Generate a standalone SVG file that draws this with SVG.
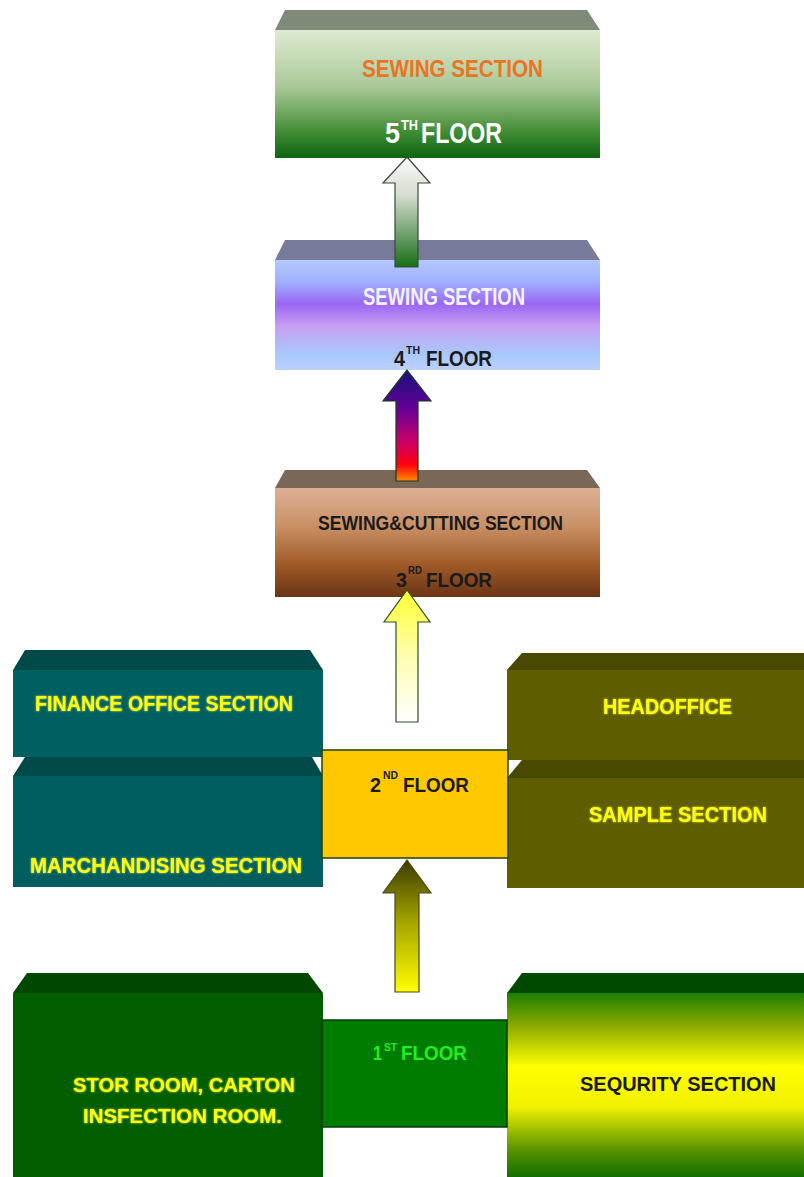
<svg xmlns="http://www.w3.org/2000/svg" width="804" height="1177" viewBox="0 0 804 1177">
  <defs>
    <linearGradient id="g5" x1="0" y1="0" x2="0" y2="1">
      <stop offset="0" stop-color="#dfead2"/>
      <stop offset="0.45" stop-color="#a9c896"/>
      <stop offset="0.8" stop-color="#3f8c34"/>
      <stop offset="1" stop-color="#0e6410"/>
    </linearGradient>
    <linearGradient id="g4" x1="0" y1="0" x2="0" y2="1">
      <stop offset="0" stop-color="#b4c8ff"/>
      <stop offset="0.2" stop-color="#a0b0ff"/>
      <stop offset="0.4" stop-color="#9a66f4"/>
      <stop offset="0.6" stop-color="#c79ef2"/>
      <stop offset="0.85" stop-color="#a8c8fc"/>
      <stop offset="1" stop-color="#bcd0ff"/>
    </linearGradient>
    <linearGradient id="g3" x1="0" y1="0" x2="0" y2="1">
      <stop offset="0" stop-color="#dcb096"/>
      <stop offset="0.35" stop-color="#c99064"/>
      <stop offset="0.7" stop-color="#a05a28"/>
      <stop offset="1" stop-color="#6a3416"/>
    </linearGradient>
    <linearGradient id="gsec" x1="0" y1="0" x2="0" y2="1">
      <stop offset="0" stop-color="#1e7e00"/>
      <stop offset="0.18" stop-color="#8caa00"/>
      <stop offset="0.4" stop-color="#ffff00"/>
      <stop offset="0.62" stop-color="#f0f000"/>
      <stop offset="0.85" stop-color="#5a9400"/>
      <stop offset="1" stop-color="#126e00"/>
    </linearGradient>
    <linearGradient id="a1" x1="0" y1="0" x2="0" y2="1">
      <stop offset="0" stop-color="#fafafa"/>
      <stop offset="0.35" stop-color="#d4dccf"/>
      <stop offset="1" stop-color="#176e17"/>
    </linearGradient>
    <linearGradient id="a2" x1="0" y1="0" x2="0" y2="1">
      <stop offset="0" stop-color="#141478"/>
      <stop offset="0.35" stop-color="#660099"/>
      <stop offset="0.65" stop-color="#cc0066"/>
      <stop offset="0.85" stop-color="#ff0010"/>
      <stop offset="1" stop-color="#ff8c00"/>
    </linearGradient>
    <linearGradient id="a3" x1="0" y1="0" x2="0" y2="1">
      <stop offset="0" stop-color="#ffff30"/>
      <stop offset="0.5" stop-color="#fdfdb0"/>
      <stop offset="1" stop-color="#ffffff"/>
    </linearGradient>
    <linearGradient id="a4" x1="0" y1="0" x2="0" y2="1">
      <stop offset="0" stop-color="#3c3c00"/>
      <stop offset="0.45" stop-color="#a0a000"/>
      <stop offset="1" stop-color="#ffff00"/>
    </linearGradient>
    <filter id="glow" x="-10%" y="-30%" width="120%" height="160%">
      <feGaussianBlur in="SourceAlpha" stdDeviation="1.2" result="b"/>
      <feFlood flood-color="#ffff66" flood-opacity="0.8"/>
      <feComposite in2="b" operator="in" result="h"/>
      <feMerge><feMergeNode in="h"/><feMergeNode in="SourceGraphic"/></feMerge>
    </filter>
  </defs>
  <style>
    text { font-family: "Liberation Sans", Arial, sans-serif; font-weight: bold; }
    .yl { fill: #ffff00; filter: url(#glow); }
    .bk { fill: #1a1a1a; }
    .arrow { stroke-width: 1.2; }
  </style>

  <!-- fifth floor -->
  <g id="floor5">
    <polygon points="285,10 587,10 600,30 275,30" fill="#7f8a78"/>
    <rect x="275" y="30" width="325" height="128" fill="url(#g5)"/>
    <text x="362" y="77" font-size="24" fill="#ea7424" textLength="181" lengthAdjust="spacingAndGlyphs">SEWING  SECTION</text>
    <text x="385" y="143" font-size="29" fill="#ffffff" font-weight="normal" textLength="15" lengthAdjust="spacingAndGlyphs">5</text>
    <text x="401" y="130" font-size="14" fill="#ffffff" font-weight="normal" textLength="17" lengthAdjust="spacingAndGlyphs">TH</text>
    <text x="421" y="143" font-size="29" fill="#ffffff" font-weight="normal" textLength="81" lengthAdjust="spacingAndGlyphs">FLOOR</text>
  </g>

  <!-- fourth floor -->
  <g id="floor4">
    <polygon points="285,240 587,240 600,260 275,260" fill="#777a98"/>
    <rect x="275" y="260" width="325" height="110" fill="url(#g4)"/>
    <text x="363" y="305" font-size="23" fill="#f4f4ff" font-weight="normal" textLength="162" lengthAdjust="spacingAndGlyphs">SEWING SECTION</text>
    <text x="394" y="366" font-size="22" class="bk" font-weight="normal" textLength="11" lengthAdjust="spacingAndGlyphs">4</text>
    <text x="406" y="354" font-size="11" class="bk" font-weight="normal" textLength="14" lengthAdjust="spacingAndGlyphs">TH</text>
    <text x="426" y="366" font-size="22" class="bk" textLength="66" lengthAdjust="spacingAndGlyphs">FLOOR</text>
  </g>

  <!-- third floor -->
  <g id="floor3">
    <polygon points="285,470 587,470 600,488 275,488" fill="#7a6758"/>
    <rect x="275" y="488" width="325" height="109" fill="url(#g3)"/>
    <text x="318" y="530" font-size="21" class="bk" font-weight="normal" textLength="245" lengthAdjust="spacingAndGlyphs">SEWING&amp;CUTTING SECTION</text>
    <text x="396" y="587" font-size="21" class="bk" font-weight="normal" textLength="11" lengthAdjust="spacingAndGlyphs">3</text>
    <text x="408" y="574" font-size="10" class="bk" font-weight="normal" textLength="14" lengthAdjust="spacingAndGlyphs">RD</text>
    <text x="426" y="587" font-size="21" class="bk" font-weight="normal" textLength="66" lengthAdjust="spacingAndGlyphs">FLOOR</text>
  </g>

  <!-- second floor: side offices -->
  <g id="finance">
    <polygon points="25,650 310,650 323,670 13,670" fill="#004a4a"/>
    <rect x="13" y="670" width="310" height="87" fill="#006060"/>
    <text x="35" y="711" font-size="22" class="yl" textLength="258" lengthAdjust="spacingAndGlyphs">FINANCE  OFFICE SECTION</text>
  </g>
  <g id="merchandising">
    <polygon points="25,757 312,757 323,776 13,776" fill="#004a4a"/>
    <rect x="13" y="776" width="310" height="111" fill="#005e5e"/>
    <text x="30" y="873" font-size="22" class="yl" textLength="272" lengthAdjust="spacingAndGlyphs">MARCHANDISING  SECTION</text>
  </g>
  <g id="headoffice">
    <polygon points="522,653 804,653 804,670 507,670" fill="#494900"/>
    <rect x="507" y="670" width="297" height="90" fill="#5e5e00"/>
    <text x="603" y="714" font-size="22" class="yl" textLength="129" lengthAdjust="spacingAndGlyphs">HEADOFFICE</text>
  </g>
  <g id="sample">
    <polygon points="522,760 804,760 804,778 507,778" fill="#494900"/>
    <rect x="507" y="778" width="297" height="110" fill="#5e5e00"/>
    <text x="589" y="822" font-size="22" class="yl" textLength="178" lengthAdjust="spacingAndGlyphs">SAMPLE  SECTION</text>
  </g>
  <g id="floor2">
    <rect x="322" y="750" width="186" height="108" fill="#ffc800" stroke="#204010" stroke-width="1.5"/>
    <text x="370" y="792" font-size="20" class="bk" textLength="11" lengthAdjust="spacingAndGlyphs">2</text>
    <text x="383" y="779" font-size="10" class="bk" textLength="15" lengthAdjust="spacingAndGlyphs">ND</text>
    <text x="403" y="792" font-size="20" class="bk" textLength="66" lengthAdjust="spacingAndGlyphs">FLOOR</text>
  </g>

  <!-- first floor -->
  <g id="storeroom">
    <polygon points="27,973 308,973 323,993 13,993" fill="#004800"/>
    <rect x="13" y="993" width="310" height="184" fill="#005e00"/>
    <text x="73" y="1092" font-size="21" class="yl" textLength="222" lengthAdjust="spacingAndGlyphs">STOR ROOM, CARTON</text>
    <text x="83" y="1123" font-size="21" class="yl" textLength="199" lengthAdjust="spacingAndGlyphs">INSFECTION ROOM.</text>
  </g>
  <g id="security">
    <polygon points="522,973 804,973 804,993 507,993" fill="#004a00"/>
    <rect x="507" y="993" width="297" height="184" fill="url(#gsec)"/>
    <text x="580" y="1091" font-size="21" class="bk" textLength="196" lengthAdjust="spacingAndGlyphs">SEQURITY  SECTION</text>
  </g>
  <g id="floor1">
    <rect x="322" y="1020" width="185" height="107" fill="#007c00" stroke="#0a3a0a" stroke-width="1.5"/>
    <text x="373" y="1060" font-size="20" fill="#22ee22" textLength="9" lengthAdjust="spacingAndGlyphs">1</text>
    <text x="384" y="1051" font-size="10" fill="#22ee22" textLength="13" lengthAdjust="spacingAndGlyphs">ST</text>
    <text x="401" y="1060" font-size="20" fill="#22ee22" textLength="66" lengthAdjust="spacingAndGlyphs">FLOOR</text>
  </g>

  <!-- block arrows between floors -->
  <g id="connectors">
    <polygon class="arrow" points="407,157 430,183 418,183 418,267 395,267 395,183 383,183" fill="url(#a1)" stroke="#3a4a3a"/>
    <polygon class="arrow" points="407,370 431,401 418,401 418,481 396,481 396,401 383,401" fill="url(#a2)" stroke="#1a3a1a"/>
    <polygon class="arrow" points="407,590 430,622 418,622 418,722 396,722 396,622 384,622" fill="url(#a3)" stroke="#2a5020"/>
    <polygon class="arrow" points="407,860 431,893 419,893 419,992 395,992 395,893 383,893" fill="url(#a4)" stroke="#4a4a10"/>
  </g>
</svg>
